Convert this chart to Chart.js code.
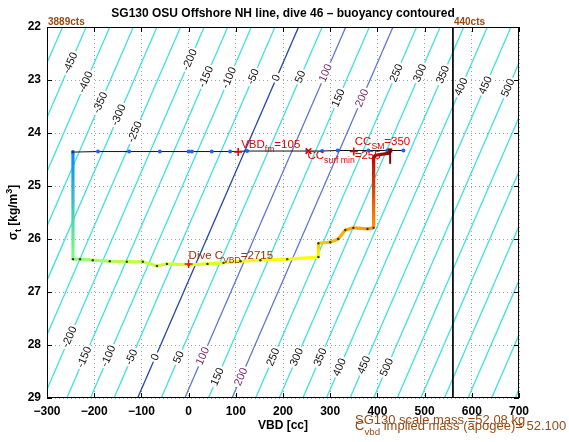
<!DOCTYPE html>
<html>
<head>
<meta charset="utf-8">
<script src="https://cdn.jsdelivr.net/npm/chart.js@4.4.1/dist/chart.umd.min.js"></script>
<style>
html,body{margin:0;padding:0;background:#fff}
#wrap{width:569px;height:442px}
</style>
</head>
<body>
<div id="wrap"><canvas id="c" width="569" height="442"></canvas></div>
<script>
// axes
var xTicks = [-300, -200, -100, 0, 100, 200, 300, 400, 500, 600, 700];
var yTicks = [22, 23, 24, 25, 26, 27, 28, 29];

// buoyancy contours (straight lines); VBD of the 0 contour at sigma 22 and 29
var contourLevels = [-500,-450,-400,-350,-300,-250,-200,-150,-100,-50,0,50,100,150,200,250,300,350,400,450,500,550,600,650,700,750,800];
var zeroTopVBD = 233;
var zeroBottomVBD = -108;

// contour labels: level and sigma where the label sits
var labelLevels = [-450,-400,-350,-300,-250,-200,-150,-100,-50,0,50,100,150,200,250,300,350,400,450,500,
                   -200,-150,-100,-50,0,50,100,150,200,250,300,350,400,450,500];
var labelSigma  = [22.68,23.04,23.43,23.66,23.98,22.62,22.94,22.96,22.94,22.96,22.94,22.87,23.34,23.34,22.87,22.87,22.9,23.13,23.1,23.15,
                   27.85,28.23,28.21,28.23,28.23,28.23,28.21,28.6,28.6,28.23,28.23,28.23,28.42,28.38,28.42];

// dive track (colour = elapsed fraction of dive, jet colormap)
var diveVBD   = [-245,-245,-230,-203,-167,-131,-97,-67,-46,0,40,74,110,152,209,275,275,300,317,332,349,379,392,392,396,426];
var diveSigma = [24.36,26.38,26.38,26.40,26.42,26.43,26.43,26.51,26.47,26.49,26.47,26.45,26.42,26.40,26.38,26.34,26.08,26.06,26.00,25.83,25.79,25.81,25.79,24.45,24.42,24.38];
var diveTime  = [0.26,0.50,0.52,0.53,0.545,0.555,0.565,0.575,0.58,0.585,0.59,0.595,0.60,0.61,0.615,0.625,0.68,0.69,0.70,0.71,0.715,0.72,0.73,0.93,0.95,0.97];

// surface points
var surfVBD   = [-245,-192,-126,-61,0,7,49,88,124,251,283,316,381,421,455];
var surfSigma = [24.36,24.35,24.35,24.35,24.35,24.35,24.35,24.35,24.34,24.34,24.34,24.33,24.33,24.33,24.33];

// markers: VBD_fm, CC surf min, CC_SM, dive C_VBD
var markVBD   = [105, 254, 350, 0];
var markSigma = [24.36, 24.34, 24.35, 26.47];

// end of dive with error bar
var endVBD   = [427, 427];
var endSigma = [24.33, 24.58];

// pump count limits
var countVBD  = [-300, 560];
var countText = ['3889cts', '440cts'];

var FONT = '"Liberation Sans", Arial, Helvetica, sans-serif';
Chart.defaults.font.family = FONT;

function clamp(v){ return Math.max(0, Math.min(1, v)); }
function jet(v){
  var r = clamp(Math.min(4*v - 1.5, -4*v + 4.5));
  var g = clamp(Math.min(4*v - 0.5, -4*v + 3.5));
  var b = clamp(Math.min(4*v + 0.5, -4*v + 2.5));
  return 'rgb(' + Math.round(r*255) + ',' + Math.round(g*255) + ',' + Math.round(b*255) + ')';
}

var canvas = document.getElementById('c');
var ctx2d = canvas.getContext('2d');

var datasets = [];
for (var i = 0; i < contourLevels.length; i++) {
  var lv = contourLevels[i];
  var col = '#40e0e0';
  if (lv === 0) col = '#1f48a8';
  else if (lv === 100 || lv === 200) col = '#5d78d2';
  datasets.push({
    data: [{x: lv + zeroTopVBD, y: 22}, {x: lv + zeroBottomVBD, y: 29}],
    borderColor: col, borderWidth: 1.3, pointRadius: 0, order: 10
  });
}
datasets.push({
  data: [{x: countVBD[1], y: 22}, {x: countVBD[1], y: 29}],
  borderColor: '#000', borderWidth: 1, pointRadius: 0, order: 9
});
datasets.push({
  data: surfVBD.map(function(v, k){ return {x: v, y: surfSigma[k]}; }),
  borderColor: '#111', borderWidth: 1, pointRadius: 2, pointBorderWidth: 0,
  pointBackgroundColor: '#2060ff', order: 5
});
datasets.push({
  data: diveVBD.map(function(v, k){ return {x: v, y: diveSigma[k]}; }),
  borderWidth: 3.2, pointRadius: 1.2, pointBorderWidth: 0, pointBackgroundColor: '#333',
  borderColor: '#ff0',
  segment: {
    borderColor: function(c){
      var g = ctx2d.createLinearGradient(c.p0.x, c.p0.y, c.p1.x, c.p1.y);
      g.addColorStop(0, jet(diveTime[c.p0DataIndex]));
      g.addColorStop(1, jet(diveTime[c.p1DataIndex]));
      return g;
    }
  },
  order: 3
});
datasets.push({
  data: endVBD.map(function(v, k){ return {x: v, y: endSigma[k]}; }),
  borderColor: '#8b0000', borderWidth: 2, pointRadius: [3, 0], pointStyle: 'rect',
  pointBackgroundColor: '#8b0000', pointBorderWidth: 0, order: 2
});
datasets.push({
  data: markVBD.map(function(v, k){ return {x: v, y: markSigma[k]}; }),
  showLine: false, pointStyle: ['cross', 'crossRot', 'cross', 'cross'], pointRadius: 4,
  borderColor: '#e00000', pointBorderColor: ['#e00000', '#e00000', '#e00000', '#e02000'],
  pointBorderWidth: 1.5, order: 1
});

function richText(ctx, parts, x, y, size, color, weight) {
  ctx.fillStyle = color;
  ctx.textBaseline = 'alphabetic';
  ctx.textAlign = 'left';
  var cx = x;
  parts.forEach(function(p){
    var s = p[1] ? size * 0.75 : size;
    ctx.font = (weight || '') + ' ' + s + 'px ' + FONT;
    var dy = p[1] === 'sub' ? size * 0.35 : (p[1] === 'sup' ? -size * 0.4 : 0);
    ctx.fillText(p[0], cx, y + dy);
    cx += ctx.measureText(p[0]).width;
  });
  return cx - x;
}
function richWidth(ctx, parts, size, weight) {
  var w = 0;
  parts.forEach(function(p){
    ctx.font = (weight || '') + ' ' + (p[1] ? size * 0.75 : size) + 'px ' + FONT;
    w += ctx.measureText(p[0]).width;
  });
  return w;
}

var decor = {
  id: 'decor',
  afterDatasetDraw: function(chart, args) {
    if (args.index !== 0) return;
    var ctx = chart.ctx, xs = chart.scales.x, ys = chart.scales.y, a = chart.chartArea;
    var ang = Math.atan2(ys.getPixelForValue(22) - ys.getPixelForValue(29),
                         xs.getPixelForValue(zeroTopVBD) - xs.getPixelForValue(zeroBottomVBD));
    ctx.save();
    ctx.beginPath(); ctx.rect(a.left, a.top, a.right - a.left, a.bottom - a.top); ctx.clip();
    ctx.font = '11px ' + FONT;
    ctx.textAlign = 'center'; ctx.textBaseline = 'middle';
    for (var i = 0; i < labelLevels.length; i++) {
      var lv = labelLevels[i], s = labelSigma[i];
      var v = lv + zeroTopVBD + (zeroBottomVBD - zeroTopVBD) * (s - 22) / 7;
      var px = xs.getPixelForValue(v), py = ys.getPixelForValue(s);
      var txt = String(lv);
      var w = ctx.measureText(txt).width;
      ctx.save();
      ctx.translate(px, py); ctx.rotate(ang);
      ctx.fillStyle = '#fff'; ctx.fillRect(-w/2 - 2, -5, w + 4, 10);
      ctx.fillStyle = (lv === 100 || lv === 200) ? '#7a2a6a' : '#111';
      ctx.fillText(txt, 0, 0);
      ctx.restore();
    }
    ctx.restore();
  },
  afterDraw: function(chart) {
    var ctx = chart.ctx, xs = chart.scales.x, ys = chart.scales.y, a = chart.chartArea;
    ctx.save();
    // box and inward ticks
    ctx.strokeStyle = '#000'; ctx.lineWidth = 1;
    ctx.strokeRect(a.left + 0.5, a.top + 0.5, a.right - a.left - 1, a.bottom - a.top - 1);
    ctx.beginPath();
    xTicks.forEach(function(t){
      var p = Math.round(xs.getPixelForValue(t)) + 0.5;
      ctx.moveTo(p, a.bottom); ctx.lineTo(p, a.bottom - 5);
      ctx.moveTo(p, a.top); ctx.lineTo(p, a.top + 5);
    });
    yTicks.forEach(function(t){
      var p = Math.round(ys.getPixelForValue(t)) + 0.5;
      ctx.moveTo(a.left, p); ctx.lineTo(a.left + 5, p);
      ctx.moveTo(a.right, p); ctx.lineTo(a.right - 5, p);
    });
    ctx.stroke();

    // title
    ctx.fillStyle = '#000';
    ctx.font = 'bold 12px ' + FONT;
    ctx.textAlign = 'center'; ctx.textBaseline = 'alphabetic';
    ctx.fillText('SG130 OSU Offshore NH line, dive 46 \u2013 buoyancy contoured', (a.left + a.right) / 2, 17);

    // axis titles
    ctx.font = 'bold 12px ' + FONT;
    ctx.fillText('VBD [cc]', (a.left + a.right) / 2, 429);
    var yParts = [['\u03c3', ''], ['t', 'sub'], [' [kg/m', ''], ['3', 'sup'], [']', '']];
    var yw = richWidth(ctx, yParts, 12, 'bold');
    ctx.save();
    ctx.translate(17, (a.top + a.bottom) / 2); ctx.rotate(-Math.PI / 2);
    richText(ctx, yParts, -yw / 2, 0, 12, '#000', 'bold');
    ctx.restore();

    // pump count labels
    ctx.font = 'bold 10px ' + FONT; ctx.fillStyle = '#9a4a12'; ctx.textAlign = 'left';
    countVBD.forEach(function(v, k){
      ctx.fillText(countText[k], xs.getPixelForValue(v) + 1, a.top - 2);
    });

    // annotations
    var red = '#e00000';
    var p = function(v, s){ return [xs.getPixelForValue(v), ys.getPixelForValue(s)]; };
    var q = p(markVBD[0], markSigma[0]);
    richText(ctx, [['VBD', ''], ['fm', 'sub'], ['=105', '']], q[0] + 3, q[1] - 4, 11.5, red);
    q = p(markVBD[1], markSigma[1]);
    richText(ctx, [['CC', ''], ['surf min', 'sub'], ['=255', '']], q[0] - 1, q[1] + 8, 11.5, red);
    q = p(markVBD[2], markSigma[2]);
    richText(ctx, [['CC', ''], ['SM', 'sub'], ['=350', '']], q[0] + 1, q[1] - 7, 11.5, red);
    q = p(markVBD[3], markSigma[3]);
    richText(ctx, [['Dive C', ''], ['VBD', 'sub'], ['=2715', '']], q[0], q[1] - 5, 11.5, '#a0300a');

    var brown = '#9a4a12';
    richText(ctx, [['SG130 scale mass =52.08 kg', '']], 355, 424, 13, brown);
    richText(ctx, [['C', ''], ['vbd', 'sub'], [' implied mass (apogee)= 52.100', '']], 355, 430, 13, brown);
    ctx.restore();
  }
};

new Chart(canvas, {
  type: 'scatter',
  data: { datasets: datasets },
  plugins: [decor],
  options: {
    responsive: false,
    animation: false,
    showLine: true,
    layout: { padding: { top: 27, right: 50, left: 0, bottom: 0 } },
    plugins: { legend: { display: false }, tooltip: { enabled: false } },
    scales: {
      x: {
        type: 'linear', min: -300, max: 700,
        afterFit: function(s){ s.height = 44; },
        afterBuildTicks: function(s){ s.ticks = xTicks.map(function(v){ return {value: v}; }); },
        ticks: { autoSkip: false, maxRotation: 0, padding: 6, color: '#000',
                 font: { size: 12, weight: 'bold' },
                 callback: function(v){ return v < 0 ? '\u2212' + (-v) : String(v); } },
        grid: { color: '#8a8a8a', lineWidth: 0.8, drawTicks: false },
        border: { display: false, dash: [1, 3] }
      },
      y: {
        type: 'linear', min: 22, max: 29, reverse: true,
        afterFit: function(s){ s.width = 47; },
        afterBuildTicks: function(s){ s.ticks = yTicks.map(function(v){ return {value: v}; }); },
        ticks: { autoSkip: false, padding: 6, color: '#000', font: { size: 12, weight: 'bold' } },
        grid: { color: '#8a8a8a', lineWidth: 0.8, drawTicks: false },
        border: { display: false, dash: [1, 3] }
      }
    }
  }
});
</script>
</body>
</html>
